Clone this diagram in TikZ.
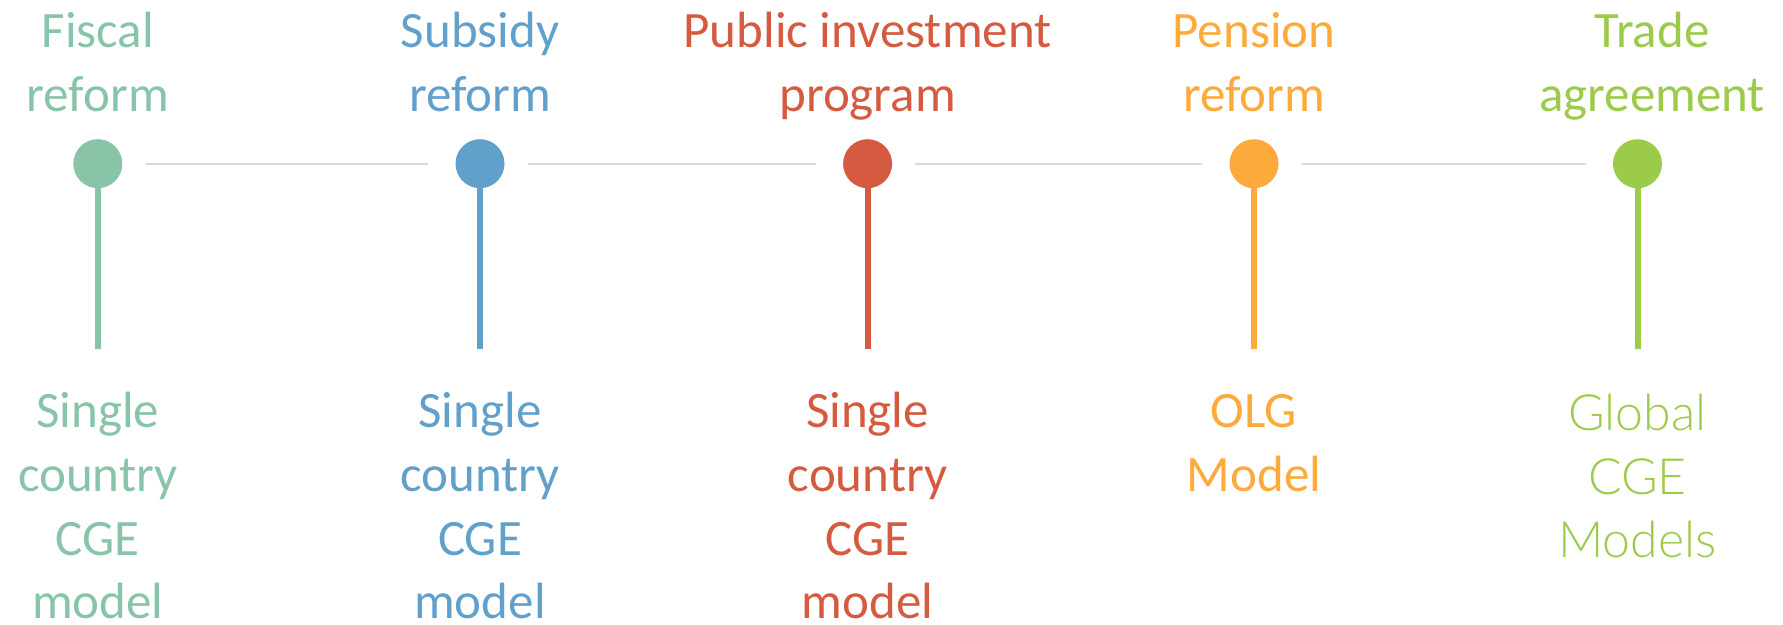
\documentclass[tikz,border=0pt]{standalone}
\usepackage{fontspec}
\setmainfont{Carlito}
\newfontfamily\lightfont{Lato Light}
\definecolor{cfis}{HTML}{88C4A8}
\definecolor{csub}{HTML}{62A0CC}
\definecolor{cpub}{HTML}{D55B40}
\definecolor{cpen}{HTML}{FCAA3C}
\definecolor{ctra}{HTML}{9CCB4C}
\definecolor{clink}{HTML}{D9D9D9}
\begin{document}
\begin{tikzpicture}[x=1pt,y=-1pt,
  lbl/.style={inner sep=0pt,outer sep=0pt,anchor=base,font=\fontsize{51}{64}\selectfont},
  lightlbl/.style={lbl,font=\lightfont\fontsize{50}{64}\selectfont},
  dot/.style={circle,inner sep=0pt,minimum size=49pt,draw=none},
  stem/.style={line width=6pt},
  link/.style={draw=clink,line width=2pt,shorten <=23pt,shorten >=27pt}]
\useasboundingbox (0,0) rectangle (1783,624);
% circles
\node[dot,fill=cfis] (c1) at (97.8,163.7) {};
\node[dot,fill=csub] (c2) at (480,163.7) {};
\node[dot,fill=cpub] (c3) at (867.6,163.7) {};
\node[dot,fill=cpen] (c4) at (1254,163.7) {};
\node[dot,fill=ctra] (c5) at (1637.5,163.7) {};
% stem ends
\coordinate (e1) at (97.8,349);
\coordinate (e2) at (480,349);
\coordinate (e3) at (867.6,349);
\coordinate (e4) at (1254,349);
\coordinate (e5) at (1637.5,349);
% links
\draw[link] (c1) -- (c2);
\draw[link] (c2) -- (c3);
\draw[link] (c3) -- (c4);
\draw[link] (c4) -- (c5);
% stems
\draw[stem,draw=cfis] (c1) -- (e1);
\draw[stem,draw=csub] (c2) -- (e2);
\draw[stem,draw=cpub] (c3) -- (e3);
\draw[stem,draw=cpen] (c4) -- (e4);
\draw[stem,draw=ctra] (c5) -- (e5);
% top labels
\node[lbl,text=cfis] (t1a) at (97.8,47.3) {Fiscal};
\node[lbl,text=cfis] (t1b) at (97.8,111.7) {reform};
\node[lbl,text=csub] (t2a) at (480,47.3) {Subsidy};
\node[lbl,text=csub] (t2b) at (480,111.7) {reform};
\node[lbl,text=cpub] (t3a) at (867.6,47.3) {Public investment};
\node[lbl,text=cpub] (t3b) at (867.6,111.7) {program};
\node[lbl,text=cpen] (t4a) at (1254,47.3) {Pension};
\node[lbl,text=cpen] (t4b) at (1254,111.7) {reform};
\node[lbl,text=ctra] (t5a) at (1652,47.3) {Trade};
\node[lbl,text=ctra] (t5b) at (1652,111.7) {agreement};
% bottom labels
\node[lbl,text=cfis] (b1a) at (97.8,427.3) {Single};
\node[lbl,text=cfis] (b1b) at (97.8,491) {country};
\node[lbl,text=cfis] (b1c) at (97.8,555) {CGE};
\node[lbl,text=cfis] (b1d) at (97.8,618.5) {model};
\node[lbl,text=csub] (b2a) at (480,427.3) {Single};
\node[lbl,text=csub] (b2b) at (480,491) {country};
\node[lbl,text=csub] (b2c) at (480,555) {CGE};
\node[lbl,text=csub] (b2d) at (480,618.5) {model};
\node[lbl,text=cpub] (b3a) at (867.6,427.3) {Single};
\node[lbl,text=cpub] (b3b) at (867.6,491) {country};
\node[lbl,text=cpub] (b3c) at (867.6,555) {CGE};
\node[lbl,text=cpub] (b3d) at (867.6,618.5) {model};
\node[lbl,text=cpen] (b4a) at (1254,427.3) {OLG};
\node[lbl,text=cpen] (b4b) at (1254,491) {Model};
\node[lightlbl,text=ctra] (b5a) at (1637.5,430) {Global};
\node[lightlbl,text=ctra] (b5b) at (1637.5,494) {CGE};
\node[lightlbl,text=ctra] (b5c) at (1637.5,557.7) {Models};
\end{tikzpicture}
\end{document}
